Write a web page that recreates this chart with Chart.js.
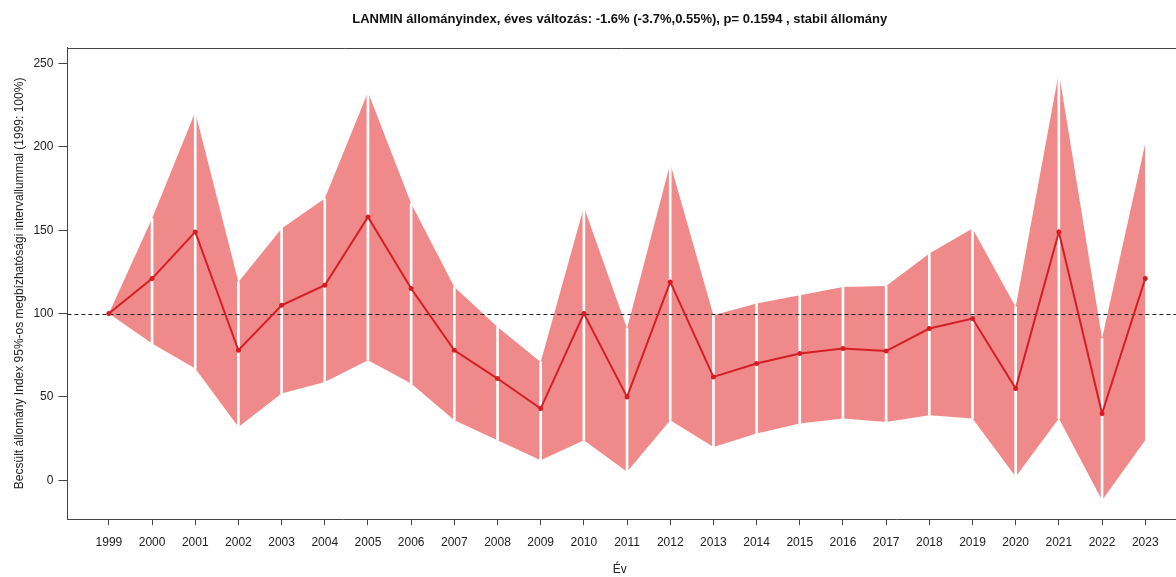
<!DOCTYPE html>
<html>
<head>
<meta charset="utf-8">
<script src="https://cdn.jsdelivr.net/npm/chart.js@4.4.1/dist/chart.umd.min.js"></script>
<style>
  html, body { margin: 0; padding: 0; background: #fff; overflow: hidden; }
  #wrap { width: 1176px; height: 577px; position: relative; }
</style>
</head>
<body>
<div id="wrap"><canvas id="indexChart"></canvas></div>
<script>
// évek és állományindex (1999 = 100)
const years = [1999, 2000, 2001, 2002, 2003, 2004, 2005, 2006, 2007, 2008, 2009, 2010, 2011,
               2012, 2013, 2014, 2015, 2016, 2017, 2018, 2019, 2020, 2021, 2022, 2023];
const indexValues = [100, 121, 149, 78, 105, 117, 158, 115, 78, 61, 43, 100, 50,
                     119, 62, 70, 76, 79, 77.5, 91, 97, 55, 149, 40, 121];
const upperCI = [100, 157, 221, 119, 151, 169, 233, 166, 116, 92, 71, 164, 91,
                 190, 99, 106, 111, 116, 116.5, 136, 151, 104, 245, 85, 202];
const lowerCI = [100, 82, 67, 32, 52, 59, 72, 58, 36, 24, 12, 24, 5,
                 36, 20, 28, 34, 37, 35, 39, 37, 2, 37, -12, 24];
const yTicks = [0, 50, 100, 150, 200, 250];
const refLevel = 100;

const pts = arr => years.map((y, i) => ({ x: y, y: arr[i] }));
// fehér elválasztó vonalak a belső éveknél
const dividers = years.slice(1, -1).map((y, i) => ({ x: y, y: [lowerCI[i + 1], upperCI[i + 1]] }));

const fontFam = "'Liberation Sans', Arial, sans-serif";
const axisCol = '#444';

// szaggatott 100%-os vonal + keret (felső oldal)
const extras = {
  id: 'extras',
  afterDatasetDraw(chart, args) {
    if (args.index !== 2) return;
    const { ctx, chartArea: a, scales } = chart;
    const y = Math.round(scales.y.getPixelForValue(refLevel)) + 0.5;
    ctx.save();
    ctx.strokeStyle = '#222';
    ctx.lineWidth = 1;
    ctx.setLineDash([4, 3]);
    ctx.beginPath();
    ctx.moveTo(a.left, y);
    ctx.lineTo(chart.width, y);
    ctx.stroke();
    ctx.restore();
  },
  afterDraw(chart) {
    const { ctx, chartArea: a } = chart;
    const top = Math.round(a.top) + 0.5;
    const bottom = Math.round(a.bottom) + 0.5;
    ctx.save();
    ctx.strokeStyle = axisCol;
    ctx.lineWidth = 1;
    ctx.beginPath();
    ctx.moveTo(chart.width, top);
    ctx.lineTo(Math.round(a.left) + 0.5, top);
    ctx.moveTo(a.right, bottom);
    ctx.lineTo(chart.width, bottom);
    ctx.stroke();
    ctx.restore();
  }
};

new Chart(document.getElementById('indexChart'), {
  type: 'line',
  data: {
    datasets: [
      {
        label: 'felső',
        data: pts(upperCI),
        borderWidth: 0,
        pointRadius: 0,
        backgroundColor: 'rgb(240,138,138)',
        fill: '+1',
        order: 5
      },
      {
        label: 'alsó',
        data: pts(lowerCI),
        borderWidth: 0,
        pointRadius: 0,
        fill: false,
        order: 6
      },
      {
        type: 'bar',
        label: 'elválasztó',
        data: dividers,
        backgroundColor: '#fff',
        barThickness: 2,
        order: 3
      },
      {
        label: 'index',
        data: pts(indexValues),
        borderColor: 'rgb(212,30,38)',
        backgroundColor: 'rgb(212,30,38)',
        borderWidth: 2,
        pointRadius: 2.5,
        pointBorderWidth: 0,
        tension: 0,
        fill: false,
        order: 1
      }
    ]
  },
  options: {
    responsive: true,
    maintainAspectRatio: false,
    animation: false,
    layout: { padding: 0 },
    plugins: {
      legend: { display: false },
      tooltip: { enabled: false },
      title: {
        display: true,
        fullSize: false,
        text: 'LANMIN állományindex, éves változás: -1.6% (-3.7%,0.55%), p= 0.1594 , stabil állomány',
        color: '#111',
        font: { family: fontFam, size: 13, weight: 'bold' },
        padding: { top: 12, bottom: 20 }
      }
    },
    scales: {
      x: {
        type: 'linear',
        min: 1998.04,
        max: 2023.62,
        offset: false,
        grid: { offset: false, drawOnChartArea: false, drawTicks: true, tickLength: 6, color: axisCol },
        border: { display: true, color: axisCol, width: 1 },
        afterBuildTicks: scale => { scale.ticks = years.map(v => ({ value: v })); },
        ticks: {
          autoSkip: false,
          maxRotation: 0,
          padding: 10,
          color: '#222',
          font: { family: fontFam, size: 12 },
          callback: v => String(v)
        },
        title: {
          display: true,
          text: 'Év',
          color: '#222',
          font: { family: fontFam, size: 12 },
          padding: { top: 3, bottom: 0 }
        }
      },
      y: {
        min: -23.4,
        max: 259.6,
        grid: { drawOnChartArea: false, drawTicks: true, tickLength: 9, color: axisCol },
        border: { display: true, color: axisCol, width: 1 },
        afterBuildTicks: scale => { scale.ticks = yTicks.map(v => ({ value: v })); },
        ticks: {
          padding: 5,
          color: '#222',
          font: { family: fontFam, size: 12 }
        },
        title: {
          display: true,
          text: 'Becsült állomány Index 95%-os megbízhatósági intervallummal (1999: 100%)',
          color: '#222',
          font: { family: fontFam, size: 12 },
          padding: { top: 12, bottom: 2 }
        }
      }
    }
  },
  plugins: [extras]
});
</script>
</body>
</html>
